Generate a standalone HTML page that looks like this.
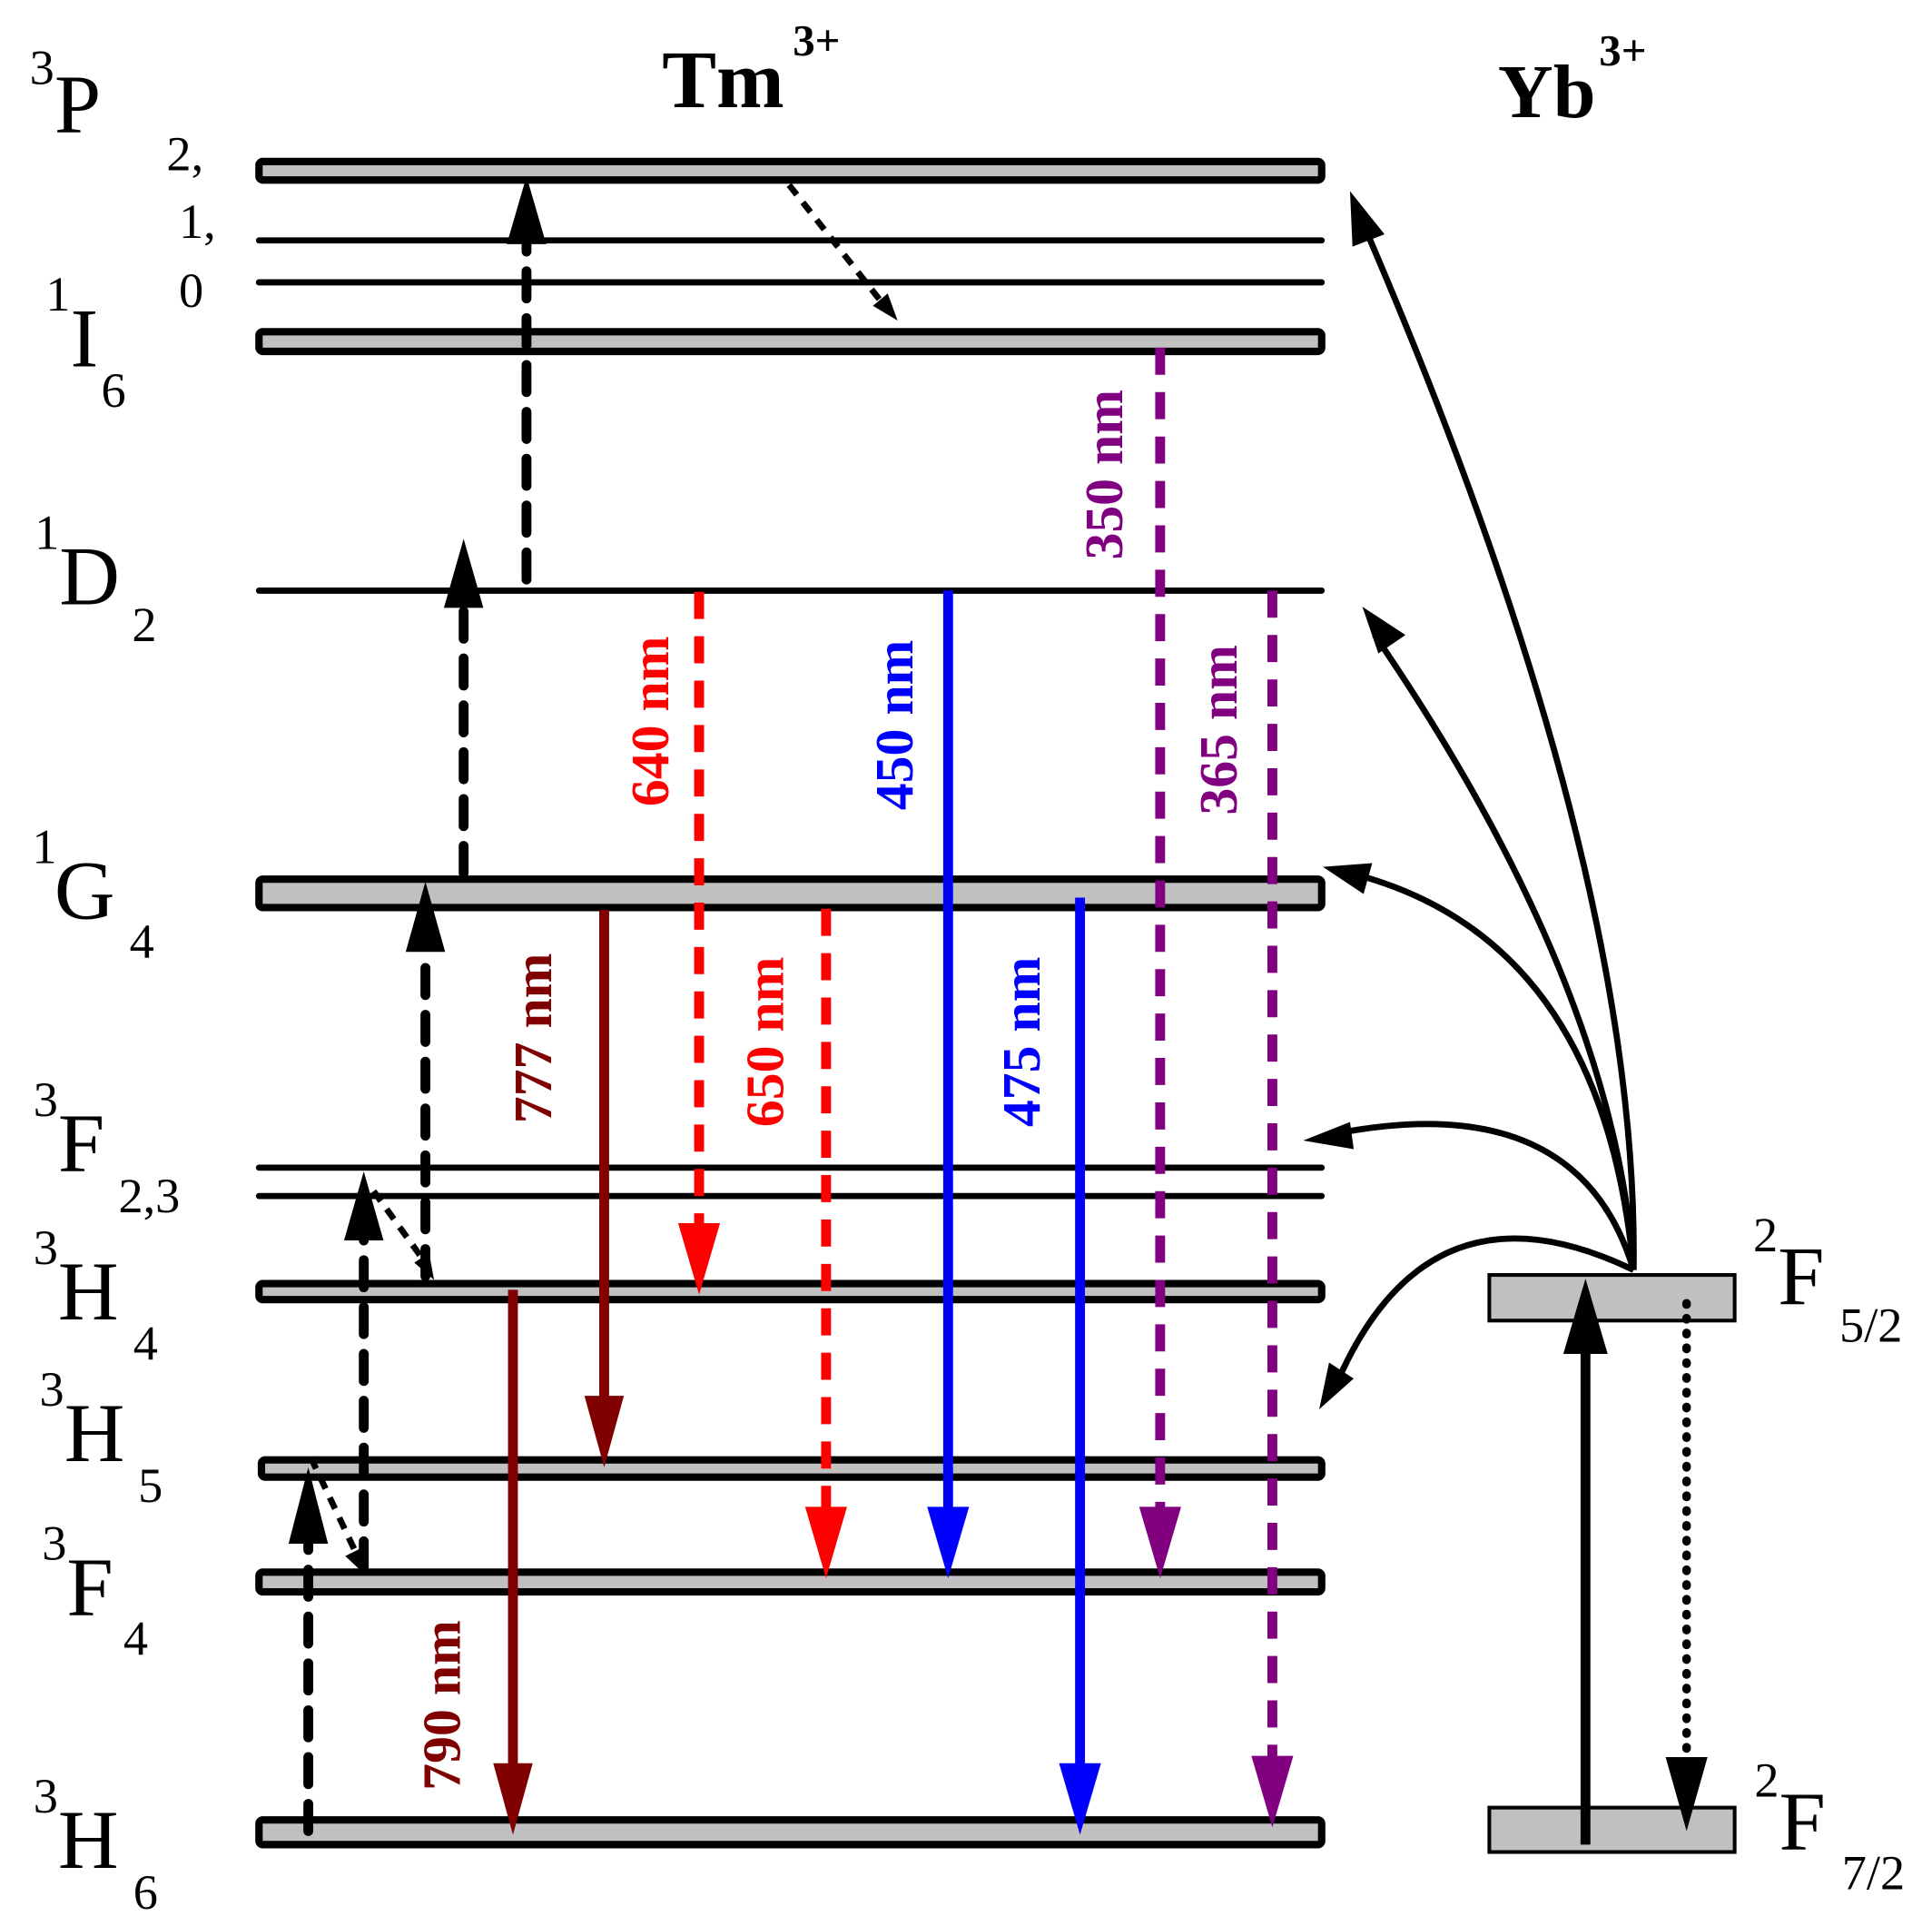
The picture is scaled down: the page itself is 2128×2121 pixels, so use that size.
<!DOCTYPE html>
<html><head><meta charset="utf-8"><style>
html,body{margin:0;padding:0;background:#fff;}
svg{display:block;}
text{font-family:"Liberation Serif",serif;}
</style></head><body>
<svg width="2128" height="2121" viewBox="0 0 1567 1562" xmlns="http://www.w3.org/2000/svg">
<rect width="1567" height="1562" fill="#fff"/>
<g stroke="#000" stroke-width="6" fill="#c0c0c0" stroke-linejoin="round">
<rect x="210" y="131" width="862" height="15" rx="3"/>
<rect x="210" y="269" width="862" height="16" rx="3"/>
<rect x="210" y="713" width="862" height="23" rx="3"/>
<rect x="210" y="1041" width="862" height="13" rx="3"/>
<rect x="212" y="1184" width="860" height="14" rx="3"/>
<rect x="210" y="1275" width="862" height="16" rx="3"/>
<rect x="210" y="1476" width="862" height="20" rx="3"/>
</g>
<g stroke="#000" stroke-width="5" stroke-linecap="round">
<line x1="210" y1="195" x2="1072" y2="195"/>
<line x1="210" y1="229" x2="1072" y2="229"/>
<line x1="210" y1="479" x2="1072" y2="479"/>
<line x1="210" y1="947" x2="1072" y2="947"/>
<line x1="210" y1="970" x2="1072" y2="970"/>
</g>
<g stroke="#000" stroke-width="3" fill="#c0c0c0">
<rect x="1208" y="1034" width="199" height="37"/>
<rect x="1208" y="1466" width="199" height="36"/>
</g>
<g stroke="#000" stroke-width="8" stroke-dasharray="22 16" stroke-linecap="round" fill="none">
<line x1="250" y1="1485" x2="250" y2="1245"/>
<line x1="295" y1="1272" x2="295" y2="1005"/>
<line x1="345" y1="1035" x2="345" y2="770"/>
<line x1="376" y1="708" x2="376" y2="492"/>
<line x1="427" y1="470" x2="427" y2="198"/>
</g>
<g fill="#000">
<polygon points="250,1190 234,1252 266,1252"/>
<polygon points="295,950 279,1006 311,1006"/>
<polygon points="345,715 329,772 361,772"/>
<polygon points="376,437 360,493 392,493"/>
<polygon points="427,143 411,198 443,198"/>
</g>
<g stroke="#000" stroke-width="5" stroke-dasharray="10 8" fill="none">
<line x1="252" y1="1182" x2="288" y2="1258"/>
<line x1="303" y1="966" x2="342" y2="1020"/>
<line x1="640" y1="150" x2="715" y2="245"/>
</g>
<g fill="#000">
<polygon points="297,1278 280,1262 296,1254"/>
<polygon points="352,1038 336,1024 348,1016"/>
<polygon points="728,260 708,248 720,238"/>
</g>
<g stroke="#800000" stroke-width="8">
<line x1="490" y1="738" x2="490" y2="1135"/>
<line x1="416" y1="1046" x2="416" y2="1432"/>
</g>
<g fill="#800000">
<polygon points="490,1190 474,1132 506,1132"/>
<polygon points="416,1488 400,1430 432,1430"/>
</g>
<g stroke="#ff0000" stroke-width="8" stroke-dasharray="22 14" fill="none">
<line x1="567" y1="480" x2="567" y2="995"/>
<line x1="670" y1="737" x2="670" y2="1225"/>
</g>
<g fill="#ff0000">
<polygon points="567,1050 550,992 584,992"/>
<polygon points="670,1280 653,1222 687,1222"/>
</g>
<g stroke="#0000ff" stroke-width="8">
<line x1="769" y1="479" x2="769" y2="1225"/>
<line x1="876" y1="728" x2="876" y2="1435"/>
</g>
<g fill="#0000ff">
<polygon points="769,1280 752,1222 786,1222"/>
<polygon points="876,1488 859,1430 893,1430"/>
</g>
<g stroke="#800080" stroke-width="8" stroke-dasharray="22 14" fill="none">
<line x1="941" y1="282" x2="941" y2="1225"/>
<line x1="1032" y1="479" x2="1032" y2="1425"/>
</g>
<g fill="#800080">
<polygon points="941,1280 924,1222 958,1222"/>
<polygon points="1032,1482 1015,1424 1049,1424"/>
</g>
<line x1="1286" y1="1496" x2="1286" y2="1095" stroke="#000" stroke-width="8"/>
<polygon points="1286,1037 1268,1098 1304,1098" fill="#000"/>
<line x1="1368" y1="1057" x2="1368" y2="1420" stroke="#000" stroke-width="7" stroke-dasharray="1 11" stroke-linecap="round"/>
<polygon points="1368,1485 1351,1425 1385,1425" fill="#000"/>
<g stroke="#000" stroke-width="5" fill="none">
<path d="M1325,1030 Q1330,700 1105,180"/>
<path d="M1325,1030 Q1310,800 1115,515"/>
<path d="M1325,1030 Q1300,760 1095,708"/>
<path d="M1325,1030 Q1280,880 1080,920"/>
<path d="M1325,1030 Q1160,950 1085,1120"/>
</g>
<g fill="#000">
<polygon points="1095,155 1123,190 1097,200"/>
<polygon points="1105,492 1140,515 1118,530"/>
<polygon points="1073,703 1113,700 1106,725"/>
<polygon points="1057,925 1095,910 1098,932"/>
<polygon points="1070,1143 1078,1105 1098,1118"/>
</g>
<g font-weight="bold" font-size="44" text-anchor="middle">
<text transform="translate(542,585) rotate(-90)" fill="#ff0000">640 nm</text>
<text transform="translate(740,588) rotate(-90)" fill="#0000ff">450 nm</text>
<text transform="translate(910,385) rotate(-90)" fill="#800080">350 nm</text>
<text transform="translate(1003,592) rotate(-90)" fill="#800080">365 nm</text>
<text transform="translate(447,842) rotate(-90)" fill="#800000">777 nm</text>
<text transform="translate(635,845) rotate(-90)" fill="#ff0000">650 nm</text>
<text transform="translate(843,845) rotate(-90)" fill="#0000ff">475 nm</text>
<text transform="translate(373,1383) rotate(-90)" fill="#800000">790 nm</text>
</g>
<g font-weight="bold">
<text x="537" y="87" font-size="66">Tm</text><text x="643" y="45" font-size="36">3+</text>
<text x="1215" y="95" font-size="62">Yb</text><text x="1297" y="53" font-size="36">3+</text>
</g>
<g font-size="68">
<text x="44" y="107">P</text><text x="24" y="68" font-size="40">3</text>
<text x="135" y="138" font-size="40">2,</text>
<text x="145" y="193" font-size="40">1,</text>
<text x="145" y="249" font-size="40">0</text>
<text x="57" y="297">I</text><text x="37" y="252" font-size="40">1</text><text x="82" y="330" font-size="40">6</text>
<text x="48" y="490">D</text><text x="28" y="445" font-size="40">1</text><text x="107" y="520" font-size="40">2</text>
<text x="44" y="745">G</text><text x="26" y="700" font-size="40">1</text><text x="105" y="777" font-size="40">4</text>
<text x="47" y="950">F</text><text x="27" y="905" font-size="40">3</text><text x="96" y="983" font-size="40">2,3</text>
<text x="47" y="1070">H</text><text x="27" y="1025" font-size="40">3</text><text x="108" y="1103" font-size="40">4</text>
<text x="52" y="1185">H</text><text x="32" y="1140" font-size="40">3</text><text x="112" y="1218" font-size="40">5</text>
<text x="54" y="1310">F</text><text x="34" y="1265" font-size="40">3</text><text x="100" y="1342" font-size="40">4</text>
<text x="47" y="1515">H</text><text x="27" y="1470" font-size="40">3</text><text x="108" y="1548" font-size="40">6</text>
<text x="1442" y="1058">F</text><text x="1422" y="1015" font-size="40">2</text><text x="1492" y="1088" font-size="40">5/2</text>
<text x="1443" y="1500">F</text><text x="1423" y="1457" font-size="40">2</text><text x="1494" y="1532" font-size="40">7/2</text>
</g>
</svg>
</body></html>
